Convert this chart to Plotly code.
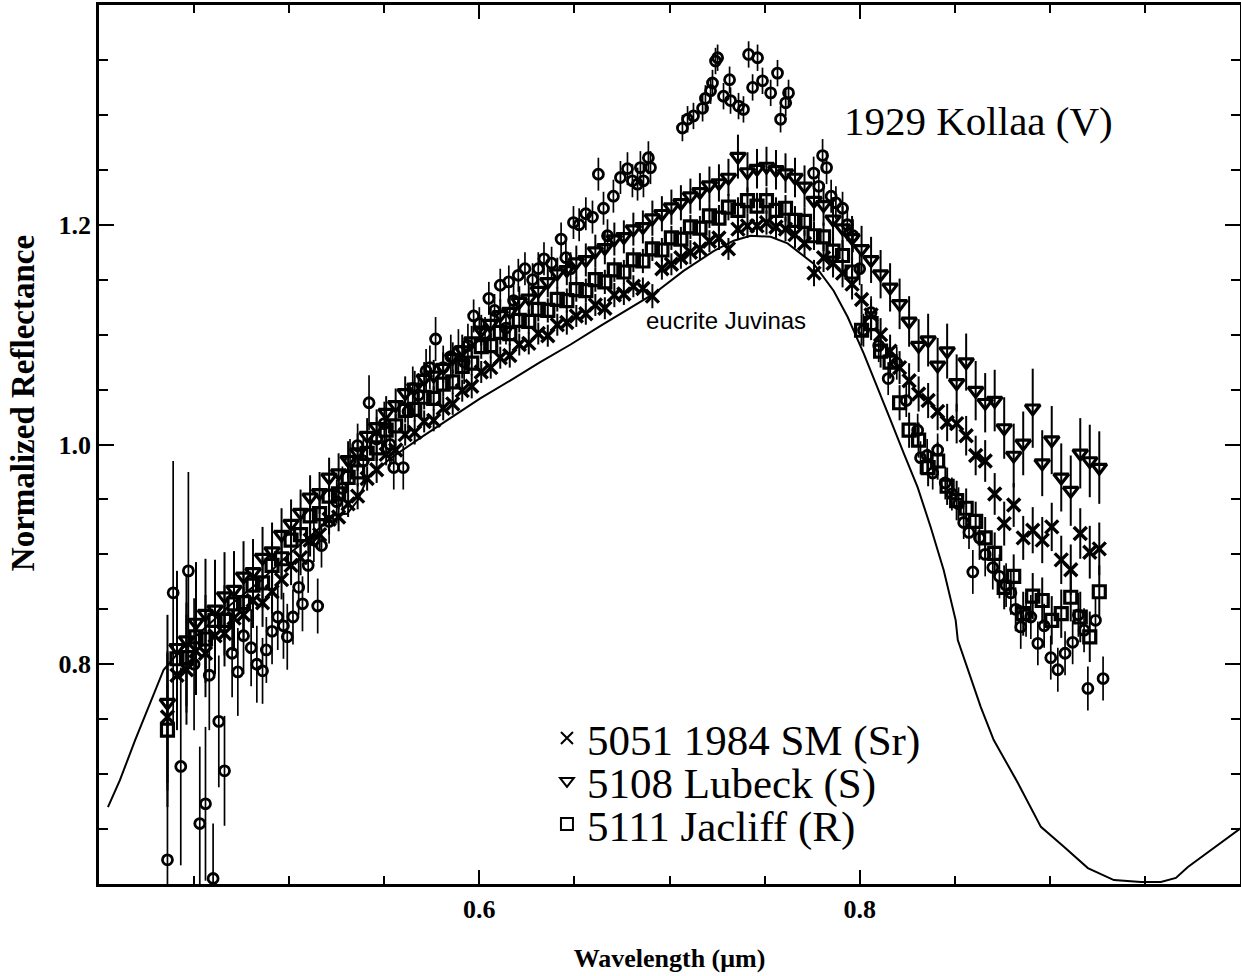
import plotly.graph_objects as go

# ---------------- data ----------------
# common wavelength grid (micrometres) of the three legend asteroids
WAVELENGTH = [
    0.436, 0.441, 0.446, 0.451, 0.456, 0.461, 0.466, 0.471, 0.476, 0.481,
    0.486, 0.491, 0.496, 0.501, 0.506, 0.511, 0.516, 0.521, 0.526, 0.531,
    0.536, 0.541, 0.546, 0.551, 0.556, 0.561, 0.566, 0.571, 0.576, 0.581,
    0.586, 0.591, 0.596, 0.601, 0.606, 0.611, 0.616, 0.621, 0.626, 0.631,
    0.636, 0.641, 0.646, 0.651, 0.656, 0.661, 0.666, 0.671, 0.676, 0.681,
    0.686, 0.691, 0.696, 0.701, 0.706, 0.711, 0.716, 0.721, 0.726, 0.731,
    0.736, 0.741, 0.746, 0.751, 0.756, 0.761, 0.766, 0.771, 0.776, 0.781,
    0.786, 0.791, 0.796, 0.801, 0.806, 0.811, 0.816, 0.821, 0.826, 0.831,
    0.836, 0.841, 0.846, 0.851, 0.856, 0.861, 0.866, 0.871, 0.876, 0.881,
    0.886, 0.891, 0.896, 0.901, 0.906, 0.911, 0.916, 0.921, 0.926,
]

# 5051 1984 SM (Sr)  - crosses
SM_REFL = [
    0.752, 0.790, 0.795, 0.812, 0.810, 0.826, 0.828, 0.842, 0.845, 0.858,
    0.856, 0.866, 0.877, 0.890, 0.897, 0.913, 0.918, 0.932, 0.934, 0.946,
    0.953, 0.969, 0.977, 0.991, 0.995, 1.009, 1.011, 1.021, 1.022, 1.033,
    1.037, 1.049, 1.053, 1.066, 1.070, 1.079, 1.081, 1.091, 1.092, 1.101,
    1.099, 1.109, 1.111, 1.117, 1.119, 1.127, 1.124, 1.136, 1.137, 1.144,
    1.142, 1.135, 1.160, 1.164, 1.170, 1.175, 1.178, 1.185, 1.188, 1.178,
    1.196, 1.199, 1.199, 1.202, 1.198, 1.196, 1.191, 1.183, 1.156, 1.170,
    1.165, 1.156, 1.146, 1.132, 1.118, 1.100, 1.085, 1.070, 1.058, 1.046,
    1.040, 1.030, 1.020, 1.019, 1.008, 0.990, 0.985, 0.955, 0.928, 0.945,
    0.915, 0.922, 0.913, 0.925, 0.895, 0.886, 0.919, 0.902, 0.905,
]
SM_ERR = [
    0.060, 0.050, 0.050, 0.040, 0.040, 0.035, 0.030, 0.030, 0.025, 0.025,
    0.022, 0.020, 0.018, 0.018, 0.016, 0.015, 0.015, 0.014, 0.013, 0.012,
    0.012, 0.011, 0.012, 0.010, 0.011, 0.010, 0.011, 0.010, 0.010, 0.011,
    0.010, 0.010, 0.011, 0.010, 0.010, 0.010, 0.011, 0.010, 0.010, 0.010,
    0.010, 0.010, 0.011, 0.010, 0.010, 0.010, 0.010, 0.011, 0.010, 0.010,
    0.010, 0.011, 0.010, 0.010, 0.010, 0.011, 0.010, 0.010, 0.011, 0.010,
    0.010, 0.011, 0.010, 0.011, 0.010, 0.011, 0.012, 0.012, 0.012, 0.013,
    0.013, 0.013, 0.014, 0.014, 0.014, 0.015, 0.015, 0.015, 0.016, 0.016,
    0.016, 0.017, 0.017, 0.018, 0.018, 0.018, 0.019, 0.019, 0.020, 0.020,
    0.020, 0.021, 0.021, 0.022, 0.022, 0.023, 0.023, 0.024, 0.024,
]

# 5108 Lubeck (S)  - down triangles
LUBECK_REFL = [
    0.765, 0.815, 0.822, 0.838, 0.846, 0.850, 0.862, 0.868, 0.880, 0.884,
    0.897, 0.903, 0.918, 0.928, 0.938, 0.952, 0.956, 0.970, 0.974, 0.986,
    0.993, 1.008, 1.016, 1.029, 1.036, 1.047, 1.052, 1.060, 1.063, 1.070,
    1.079, 1.086, 1.094, 1.104, 1.110, 1.118, 1.121, 1.130, 1.133, 1.140,
    1.148, 1.156, 1.159, 1.166, 1.168, 1.176, 1.179, 1.187, 1.189, 1.196,
    1.198, 1.206, 1.210, 1.216, 1.220, 1.226, 1.230, 1.236, 1.238, 1.243,
    1.262, 1.248, 1.251, 1.253, 1.250, 1.247, 1.243, 1.235, 1.222, 1.218,
    1.205, 1.197, 1.188, 1.178, 1.168, 1.155, 1.143, 1.128, 1.112, 1.090,
    1.095, 1.072, 1.085, 1.056, 1.075, 1.049, 1.038, 1.040, 1.015, 0.990,
    1.001, 1.033, 0.983, 1.004, 0.970, 0.958, 0.992, 0.985, 0.979,
]
LUBECK_ERR = [
    0.080, 0.070, 0.060, 0.055, 0.050, 0.045, 0.040, 0.035, 0.032, 0.030,
    0.028, 0.026, 0.024, 0.022, 0.021, 0.020, 0.019, 0.018, 0.018, 0.017,
    0.017, 0.016, 0.016, 0.015, 0.015, 0.015, 0.015, 0.015, 0.014, 0.014,
    0.014, 0.014, 0.014, 0.014, 0.014, 0.014, 0.014, 0.014, 0.014, 0.014,
    0.014, 0.014, 0.014, 0.015, 0.015, 0.015, 0.015, 0.015, 0.015, 0.015,
    0.015, 0.016, 0.016, 0.016, 0.016, 0.016, 0.017, 0.017, 0.017, 0.017,
    0.020, 0.018, 0.018, 0.018, 0.018, 0.018, 0.018, 0.019, 0.019, 0.019,
    0.020, 0.020, 0.020, 0.021, 0.021, 0.022, 0.022, 0.023, 0.023, 0.024,
    0.024, 0.025, 0.025, 0.026, 0.026, 0.027, 0.027, 0.028, 0.028, 0.029,
    0.029, 0.036, 0.030, 0.031, 0.031, 0.032, 0.032, 0.033, 0.033,
]

# 5111 Jacliff (R)  - squares
JACLIFF_REFL = [
    0.740, 0.805, 0.806, 0.825, 0.823, 0.840, 0.840, 0.855, 0.856, 0.872,
    0.874, 0.890, 0.896, 0.913, 0.918, 0.935, 0.937, 0.953, 0.955, 0.970,
    0.975, 0.992, 0.997, 1.013, 1.017, 1.031, 1.032, 1.043, 1.042, 1.055,
    1.057, 1.071, 1.074, 1.089, 1.090, 1.102, 1.101, 1.113, 1.112, 1.123,
    1.122, 1.132, 1.131, 1.141, 1.140, 1.150, 1.148, 1.159, 1.157, 1.168,
    1.167, 1.178, 1.177, 1.188, 1.187, 1.198, 1.197, 1.208, 1.206, 1.216,
    1.213, 1.222, 1.217, 1.222, 1.213, 1.215, 1.204, 1.203, 1.190, 1.189,
    1.176, 1.172, 1.157, 1.104, 1.110, 1.085, 1.075, 1.038, 1.013, 1.004,
    0.979, 0.985, 0.962, 0.949, 0.942, 0.930, 0.915, 0.901, 0.870, 0.880,
    0.846, 0.862, 0.858, 0.840, 0.846, 0.861, 0.843, 0.825, 0.866,
]
JACLIFF_ERR = [
    0.070, 0.055, 0.050, 0.045, 0.040, 0.035, 0.032, 0.030, 0.027, 0.025,
    0.023, 0.021, 0.019, 0.018, 0.017, 0.016, 0.015, 0.014, 0.014, 0.013,
    0.013, 0.012, 0.012, 0.012, 0.011, 0.011, 0.011, 0.011, 0.011, 0.011,
    0.011, 0.011, 0.011, 0.011, 0.011, 0.011, 0.011, 0.011, 0.011, 0.011,
    0.011, 0.011, 0.011, 0.011, 0.011, 0.011, 0.011, 0.011, 0.011, 0.011,
    0.011, 0.011, 0.011, 0.011, 0.011, 0.011, 0.011, 0.011, 0.012, 0.012,
    0.012, 0.012, 0.012, 0.012, 0.012, 0.012, 0.013, 0.013, 0.013, 0.013,
    0.013, 0.014, 0.014, 0.014, 0.015, 0.015, 0.015, 0.016, 0.016, 0.016,
    0.017, 0.017, 0.017, 0.018, 0.018, 0.018, 0.019, 0.019, 0.020, 0.020,
    0.020, 0.021, 0.021, 0.022, 0.022, 0.022, 0.023, 0.023, 0.024,
]

# 1929 Kollaa (V) - open circles
KOLLAA_WL = [
    0.436, 0.439, 0.443, 0.447, 0.450, 0.453, 0.456, 0.458, 0.460, 0.463,
    0.466, 0.470, 0.473, 0.476, 0.480, 0.483, 0.486, 0.488, 0.491, 0.494,
    0.497, 0.499, 0.502, 0.505, 0.507, 0.510, 0.513, 0.515, 0.517, 0.521,
    0.525, 0.528, 0.532, 0.536, 0.539, 0.542, 0.546, 0.550, 0.553, 0.555,
    0.560, 0.5625, 0.565, 0.568, 0.572, 0.574, 0.577, 0.581, 0.585, 0.589,
    0.592, 0.594, 0.597, 0.600, 0.603, 0.605, 0.608, 0.611, 0.614, 0.6155,
    0.618, 0.6205, 0.624, 0.628, 0.631, 0.634, 0.638, 0.643, 0.6455, 0.648,
    0.6495, 0.6525, 0.656, 0.6595, 0.6626, 0.6653, 0.6674, 0.6705, 0.6742, 0.6779,
    0.6805, 0.6832, 0.6847, 0.6863, 0.6889, 0.690, 0.7068, 0.7095, 0.7126, 0.7174,
    0.7189, 0.7216, 0.7226, 0.7242, 0.7253, 0.7284, 0.7316, 0.7321, 0.7363, 0.7389,
    0.7416, 0.7437, 0.7463, 0.7489, 0.7532, 0.7568, 0.7584, 0.7611, 0.7626, 0.7758,
    0.7785, 0.7805, 0.7826, 0.785, 0.7875, 0.791, 0.7935, 0.7965, 0.800, 0.802,
    0.806, 0.810, 0.815, 0.8195, 0.8245, 0.8305, 0.832, 0.8355, 0.8384, 0.841,
    0.845, 0.8485, 0.852, 0.8547, 0.8575, 0.8595, 0.863, 0.866, 0.870, 0.8735,
    0.877, 0.8795, 0.882, 0.8847, 0.8875, 0.890, 0.8937, 0.897, 0.9005, 0.9042,
    0.908, 0.912, 0.915, 0.918, 0.920, 0.924, 0.928,
]
KOLLAA_REFL = [
    0.622, 0.865, 0.707, 0.885, 0.800, 0.655, 0.673, 0.790, 0.605, 0.748,
    0.703, 0.810, 0.793, 0.826, 0.815, 0.800, 0.794, 0.813, 0.830, 0.843,
    0.835, 0.825, 0.843, 0.870, 0.855, 0.890, 0.913, 0.853, 0.908, 0.930,
    0.948, 0.960, 0.985, 0.999, 0.985, 1.038, 1.005, 1.019, 1.000, 0.979,
    0.979, 1.030, 1.051, 1.045, 1.067, 1.070, 1.096, 1.070, 1.080, 1.085,
    1.075, 1.090, 1.117, 1.110, 1.101, 1.133, 1.122, 1.145, 1.106, 1.148,
    1.131, 1.154, 1.160, 1.150, 1.160, 1.169, 1.165, 1.187, 1.170, 1.160,
    1.202, 1.200, 1.210, 1.207, 1.246, 1.215, 1.190, 1.226, 1.243, 1.251,
    1.240, 1.237, 1.252, 1.240, 1.261, 1.252, 1.288, 1.296, 1.299, 1.306,
    1.315, 1.322, 1.329, 1.349, 1.352, 1.317, 1.332, 1.313, 1.308, 1.305,
    1.355, 1.325, 1.352, 1.331, 1.320, 1.338, 1.296, 1.311, 1.320, 1.247,
    1.235, 1.263, 1.252, 1.226, 1.220, 1.215, 1.200, 1.190, 1.160, 1.104,
    1.120, 1.090, 1.060, 1.074, 1.040, 1.013, 0.988, 0.990, 0.974, 0.995,
    0.965, 0.955, 0.946, 0.929, 0.920, 0.884, 0.915, 0.900, 0.888, 0.880,
    0.872, 0.865, 0.850, 0.834, 0.845, 0.843, 0.819, 0.835, 0.806, 0.795,
    0.810, 0.820, 0.845, 0.831, 0.778, 0.840, 0.787,
]
KOLLAA_ERR = [
    0.160, 0.120, 0.090, 0.090, 0.060, 0.070, 0.070, 0.050, 0.050, 0.060,
    0.050, 0.040, 0.040, 0.035, 0.035, 0.035, 0.030, 0.030, 0.030, 0.030,
    0.030, 0.030, 0.025, 0.025, 0.025, 0.025, 0.020, 0.025, 0.020, 0.020,
    0.020, 0.020, 0.020, 0.020, 0.020, 0.025, 0.020, 0.020, 0.020, 0.020,
    0.020, 0.020, 0.020, 0.020, 0.020, 0.020, 0.020, 0.020, 0.020, 0.020,
    0.020, 0.020, 0.015, 0.015, 0.015, 0.015, 0.015, 0.015, 0.015, 0.015,
    0.015, 0.015, 0.015, 0.015, 0.015, 0.015, 0.015, 0.015, 0.015, 0.015,
    0.015, 0.015, 0.015, 0.015, 0.015, 0.015, 0.015, 0.015, 0.015, 0.015,
    0.015, 0.015, 0.015, 0.015, 0.015, 0.015, 0.012, 0.012, 0.012, 0.012,
    0.012, 0.012, 0.012, 0.012, 0.012, 0.012, 0.012, 0.012, 0.012, 0.012,
    0.012, 0.012, 0.012, 0.012, 0.012, 0.012, 0.012, 0.012, 0.012, 0.015,
    0.015, 0.015, 0.015, 0.015, 0.015, 0.015, 0.015, 0.015, 0.015, 0.015,
    0.015, 0.015, 0.015, 0.015, 0.015, 0.015, 0.015, 0.015, 0.015, 0.015,
    0.015, 0.015, 0.015, 0.015, 0.015, 0.020, 0.020, 0.020, 0.020, 0.020,
    0.020, 0.020, 0.020, 0.020, 0.020, 0.020, 0.020, 0.020, 0.020, 0.020,
    0.020, 0.020, 0.020, 0.020, 0.020, 0.020, 0.020,
]

# eucrite Juvinas laboratory spectrum (solid line)
JUVINAS_WL = [
    0.4047, 0.411, 0.419, 0.427, 0.434, 0.443, 0.453, 0.469, 0.485, 0.5005,
    0.516, 0.524, 0.5305, 0.536, 0.541, 0.553, 0.569, 0.585, 0.6005, 0.616,
    0.632, 0.648, 0.6637, 0.6916, 0.7074, 0.7232, 0.7337, 0.7426, 0.7532, 0.7621,
    0.7758, 0.7863, 0.7937, 0.8021, 0.8095, 0.8163, 0.8232, 0.8305, 0.8374, 0.8442,
    0.8505, 0.8516, 0.8637, 0.8705, 0.8832, 0.8953, 0.9074, 0.920, 0.9337, 0.9479,
    0.9584, 0.9663, 0.9726, 0.9847, 0.9953, 1.0005,
]
JUVINAS_REFL = [
    0.670, 0.6945, 0.731, 0.765, 0.795, 0.813, 0.829, 0.854, 0.876, 0.901,
    0.924, 0.936, 0.937, 0.949, 0.969, 0.987, 1.006, 1.024, 1.042, 1.058,
    1.075, 1.091, 1.108, 1.137, 1.158, 1.176, 1.1855, 1.190, 1.189, 1.183,
    1.1645, 1.140, 1.116, 1.083, 1.052, 1.022, 0.992, 0.961, 0.9245, 0.8855,
    0.840, 0.822, 0.761, 0.731, 0.692, 0.652, 0.634, 0.6145, 0.6036, 0.6018,
    0.6018, 0.6055, 0.6155, 0.631, 0.6445, 0.651,
]

X_TICKS = [0.6, 0.8]
X_TICK_TEXT = ["0.6", "0.8"]
Y_TICKS = [0.8, 1.0, 1.2]
Y_TICK_TEXT = ["0.8", "1.0", "1.2"]

# ---------------- figure ----------------
BLACK = "#000000"
SERIF = "Liberation Serif, Times New Roman, serif"


def err(values, thick=2.0):
    return dict(type="data", array=values, visible=True, color=BLACK,
                thickness=thick, width=0)


fig = go.Figure()

fig.add_trace(go.Scatter(
    x=JUVINAS_WL, y=JUVINAS_REFL, mode="lines", name="eucrite Juvinas",
    line=dict(color=BLACK, width=2), showlegend=False, hoverinfo="skip"))

fig.add_trace(go.Scatter(
    x=KOLLAA_WL, y=KOLLAA_REFL, mode="markers", name="1929 Kollaa (V)",
    marker=dict(symbol="circle-open", size=10, color=BLACK,
                line=dict(color=BLACK, width=2.8)),
    error_y=err(KOLLAA_ERR, 1.7), showlegend=False))

fig.add_trace(go.Scatter(
    x=WAVELENGTH, y=SM_REFL, mode="markers", name="5051 1984 SM (Sr)",
    marker=dict(symbol="x-thin-open", size=13, color=BLACK,
                line=dict(color=BLACK, width=3.4)),
    error_y=err(SM_ERR), legend="legend"))

fig.add_trace(go.Scatter(
    x=WAVELENGTH, y=LUBECK_REFL, mode="markers", name="5108 Lubeck (S)",
    marker=dict(symbol="triangle-down-open", size=13, color=BLACK,
                line=dict(color=BLACK, width=3.2)),
    error_y=err(LUBECK_ERR), legend="legend2"))

fig.add_trace(go.Scatter(
    x=WAVELENGTH, y=JACLIFF_REFL, mode="markers", name="5111 Jacliff (R)",
    marker=dict(symbol="square-open", size=12, color=BLACK,
                line=dict(color=BLACK, width=3.2)),
    error_y=err(JACLIFF_ERR), legend="legend3"))

fig.add_annotation(x=0.7905, y=1.2945, xref="x", yref="y",
                   text="1929 Kollaa (V)", showarrow=False,
                   xanchor="left", yanchor="middle",
                   font=dict(family=SERIF, size=41, color=BLACK))
fig.add_annotation(x=0.7295, y=1.1127, xref="x", yref="y",
                   text="eucrite Juvinas", showarrow=False,
                   xanchor="center", yanchor="middle",
                   font=dict(family="Liberation Sans, Arial, sans-serif",
                             size=24, color=BLACK))
# y-axis title (placed off-centre, as in the original)
fig.add_annotation(x=-0.0666, y=0.547, xref="paper", yref="paper",
                   text="Normalized Reflectance", showarrow=False,
                   textangle=-90, xanchor="center", yanchor="middle",
                   font=dict(family=SERIF, size=33, color=BLACK,
                             weight="bold"))

axis_common = dict(
    showgrid=False, zeroline=False, showline=True, linecolor=BLACK,
    linewidth=2.5, mirror="ticks", ticks="inside", tickcolor=BLACK,
    tickwidth=2, tickfont=dict(family=SERIF, size=26, color=BLACK,
                               weight="bold"),
)

fig.update_xaxes(
    range=[0.4, 1.0], tickmode="array", tickvals=X_TICKS, ticktext=X_TICK_TEXT,
    ticklen=14,
    minor=dict(tick0=0.4, dtick=0.05, ticks="inside", ticklen=8,
               tickwidth=1.5, tickcolor=BLACK),
    title=dict(text="Wavelength (μm)", standoff=26,
               font=dict(family=SERIF, size=26, color=BLACK, weight="bold")),
    **axis_common)

fig.update_yaxes(
    range=[0.6, 1.4], tickmode="array", tickvals=Y_TICKS, ticktext=Y_TICK_TEXT,
    ticklen=15,
    minor=dict(tick0=0.6, dtick=0.05, ticks="inside", ticklen=9,
               tickwidth=1.5, tickcolor=BLACK),
    **axis_common)

legend_common = dict(x=0.3926, xanchor="left", yanchor="middle",
                     bgcolor="rgba(0,0,0,0)", borderwidth=0,
                     font=dict(family=SERIF, size=43, color=BLACK),
                     itemsizing="constant")

fig.update_layout(
    width=1241, height=976,
    margin=dict(l=99, r=1, t=5, b=92, autoexpand=False),
    paper_bgcolor="white", plot_bgcolor="white",
    showlegend=True,
    legend=dict(y=0.1661, **legend_common),
    legend2=dict(y=0.1172, **legend_common),
    legend3=dict(y=0.0683, **legend_common),
)

fig.write_html("out.html")
